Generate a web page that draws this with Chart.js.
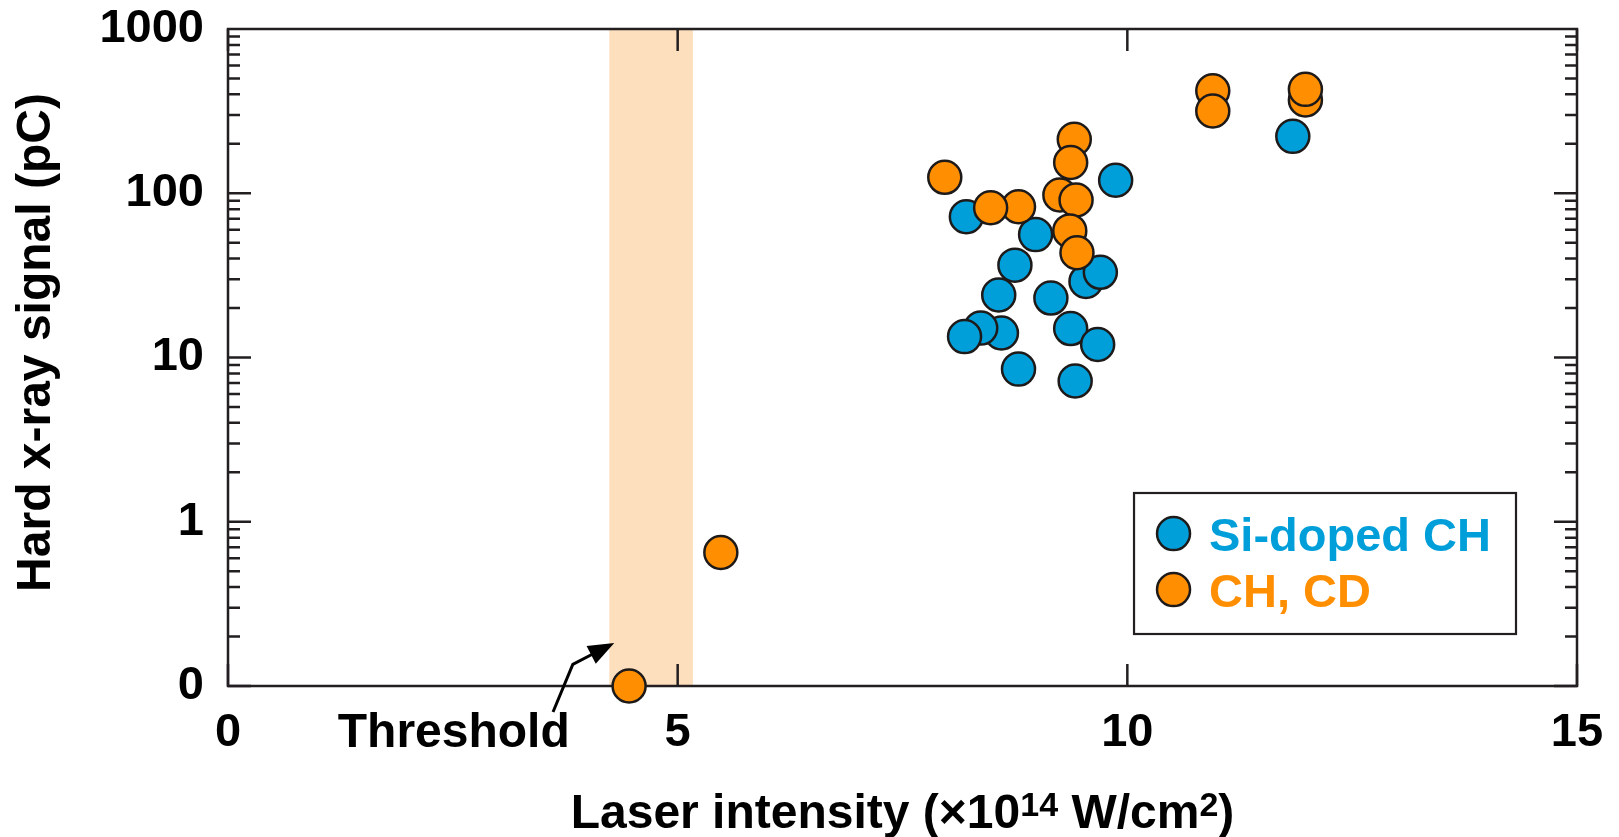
<!DOCTYPE html>
<html><head><meta charset="utf-8">
<script src="https://cdn.jsdelivr.net/npm/chart.js@4.4.0/dist/chart.umd.min.js"></script>
<style>html,body{margin:0;padding:0;background:#fff;}#wrap{width:1619px;height:837px;}</style>
</head><body><div id="wrap"><canvas id="c" width="1619" height="837"></canvas></div>
<script>
// ---- data ----
const seriesNames = ['Si-doped CH', 'CH, CD'];
const siX = [9.87, 8.21, 8.98, 8.75, 8.57, 9.15, 9.54, 9.70, 8.60, 8.37, 8.19, 9.37, 9.67, 8.79, 9.42, 11.84];
const siY = [120, 72, 56, 36.5, 24, 23, 29, 33, 14.1, 15.1, 13.4, 15.0, 12.0, 8.5, 7.2, 222];
const chX = [4.46, 5.48, 7.97, 8.79, 8.48, 9.41, 9.37, 9.25, 9.43, 9.36, 9.44, 10.95, 10.95, 11.98, 11.98];
const chY = [0.1, 0.65, 125, 82.7, 81.6, 213, 154, 97.5, 91, 59, 43.4, 421, 317, 370, 429];
const xTicks = [0, 5, 10, 15];
const yTicks = [0.1, 1, 10, 100, 1000];
const yTickLabels = ['0', '1', '10', '100', '1000'];
const thresholdBand = [4.24, 5.17];
const thresholdLabel = 'Threshold';
const yTitle = 'Hard x-ray signal (pC)';
const xTitleParts = [['Laser intensity (\u00d710', false], ['14', true], [' W/cm', false], ['2', true], [')', false]];

// ---- styles ----
const FONT = '"Liberation Sans", Arial, Helvetica, sans-serif';
const BLUE = '#009fda', ORANGE = '#ff8f00', EDGE = '#1e1a1a', FRAME = '#231f20', BAND = '#fddfbd';
Chart.defaults.font.family = FONT;

const deco = {
  id: 'deco',
  beforeDatasetsDraw(chart) {
    const {ctx, chartArea: a, scales: {x, y}} = chart;
    ctx.save();
    const b0 = x.getPixelForValue(thresholdBand[0]), b1 = x.getPixelForValue(thresholdBand[1]);
    ctx.fillStyle = BAND;
    ctx.fillRect(b0, a.top, b1 - b0, a.bottom - a.top);
    ctx.strokeStyle = FRAME; ctx.lineWidth = 2.5; ctx.lineCap = 'butt';
    ctx.beginPath();
    xTicks.forEach(v => {
      const px = x.getPixelForValue(v);
      ctx.moveTo(px, a.bottom); ctx.lineTo(px, a.bottom - 22);
      ctx.moveTo(px, a.top); ctx.lineTo(px, a.top + 22);
    });
    for (let d = -1; d <= 2; d++) {
      for (let m = 1; m <= 9; m++) {
        const py = y.getPixelForValue(m * Math.pow(10, d));
        const len = m === 1 ? 23 : 12;
        ctx.moveTo(a.left, py); ctx.lineTo(a.left + len, py);
        ctx.moveTo(a.right, py); ctx.lineTo(a.right - len, py);
      }
    }
    ctx.stroke();
    ctx.strokeRect(a.left, a.top, a.right - a.left, a.bottom - a.top);
    ctx.restore();
  },
  afterDraw(chart) {
    const {ctx, chartArea: a, scales: {x, y}} = chart;
    ctx.save();
    // legend
    ctx.font = 'bold 47px ' + FONT;
    const tw = Math.max(...seriesNames.map(s => ctx.measureText(s).width));
    const bw = 75 + tw + 25, bh = 141;
    const bx = a.right - 61 - bw, by = a.bottom - 52 - bh;
    ctx.fillStyle = '#fff';
    ctx.fillRect(bx, by, bw, bh);
    ctx.strokeStyle = FRAME; ctx.lineWidth = 2.2;
    ctx.strokeRect(bx, by, bw, bh);
    const cols = [BLUE, ORANGE];
    seriesNames.forEach((s, i) => {
      const cy = by + 40.6 + i * 56;
      ctx.beginPath(); ctx.arc(bx + 39.5, cy, 16.5, 0, Math.PI * 2);
      ctx.fillStyle = cols[i]; ctx.fill();
      ctx.lineWidth = 2.5; ctx.strokeStyle = EDGE; ctx.stroke();
      ctx.fillStyle = cols[i]; ctx.textAlign = 'left'; ctx.textBaseline = 'alphabetic';
      ctx.fillText(s, bx + 75, cy + 17);
    });
    // threshold annotation
    const p0 = [x.getPixelForValue(3.614), y.getPixelForValue(0.0695)];
    const p1 = [x.getPixelForValue(3.834), y.getPixelForValue(0.1355)];
    const p2 = [x.getPixelForValue(4.295), y.getPixelForValue(0.183)];
    const ang = Math.atan2(p2[1] - p1[1], p2[0] - p1[0]);
    const hl = 26, hw = 10;
    const back = [p2[0] - hl * Math.cos(ang), p2[1] - hl * Math.sin(ang)];
    ctx.strokeStyle = '#000'; ctx.lineWidth = 3; ctx.lineJoin = 'miter';
    ctx.beginPath(); ctx.moveTo(p0[0], p0[1]); ctx.lineTo(p1[0], p1[1]);
    ctx.lineTo(back[0] + 4 * Math.cos(ang), back[1] + 4 * Math.sin(ang)); ctx.stroke();
    ctx.fillStyle = '#000';
    ctx.beginPath();
    ctx.moveTo(p2[0], p2[1]);
    ctx.lineTo(back[0] + hw * Math.sin(ang), back[1] - hw * Math.cos(ang));
    ctx.lineTo(back[0] - hw * Math.sin(ang), back[1] + hw * Math.cos(ang));
    ctx.closePath(); ctx.fill();
    ctx.font = 'bold 48px ' + FONT; ctx.textAlign = 'right'; ctx.textBaseline = 'alphabetic';
    ctx.fillText(thresholdLabel, x.getPixelForValue(3.80), a.bottom + 61);
    // y title
    ctx.save();
    ctx.translate(a.left - 191, (a.top + a.bottom) / 2 - 15);
    ctx.rotate(-Math.PI / 2);
    ctx.font = 'bold 48px ' + FONT;
    ctx.textAlign = 'center'; ctx.textBaseline = 'middle';
    ctx.fillText(yTitle, 0, 0);
    ctx.restore();
    // x title with superscripts
    const mainF = 'bold 48px ' + FONT, supF = 'bold 34px ' + FONT;
    let total = 0;
    xTitleParts.forEach(([t, sup]) => { ctx.font = sup ? supF : mainF; total += ctx.measureText(t).width; });
    let cx = (a.left + a.right) / 2 - total / 2;
    const base = a.bottom + 142;
    ctx.textAlign = 'left';
    xTitleParts.forEach(([t, sup]) => {
      ctx.font = sup ? supF : mainF;
      ctx.fillText(t, cx, sup ? base - 12 : base);
      cx += ctx.measureText(t).width;
    });
    ctx.restore();
  }
};

const pts = (xs, ys) => xs.map((v, i) => ({x: v, y: ys[i]}));

new Chart(document.getElementById('c'), {
  type: 'scatter',
  data: {
    datasets: [
      {label: seriesNames[0], data: pts(siX, siY), backgroundColor: BLUE, borderColor: EDGE, borderWidth: 2.5,
       pointRadius: 16.5, pointHoverRadius: 16.5, clip: false, order: 1},
      {label: seriesNames[1], data: pts(chX, chY), backgroundColor: ORANGE, borderColor: EDGE, borderWidth: 2.5,
       pointRadius: 16.5, pointHoverRadius: 16.5, clip: false, order: 0}
    ]
  },
  options: {
    responsive: false, animation: false, events: [],
    layout: {padding: {top: 29, right: 42, left: 0, bottom: 0}},
    plugins: {legend: {display: false}, tooltip: {enabled: false}},
    scales: {
      x: {
        type: 'linear', min: 0, max: 15,
        afterBuildTicks: s => { s.ticks = xTicks.map(v => ({value: v})); },
        afterFit: s => { s.height = 151; s.paddingLeft = 0; s.paddingRight = 0; },
        grid: {display: false, drawTicks: false}, border: {display: false},
        ticks: {font: {size: 47, weight: 'bold'}, color: '#000', padding: 19, maxRotation: 0, autoSkip: false}
      },
      y: {
        type: 'logarithmic', min: 0.1, max: 1000,
        afterBuildTicks: s => { s.ticks = yTicks.map(v => ({value: v})); },
        afterFit: s => { s.width = 228; s.paddingTop = 0; s.paddingBottom = 0; },
        grid: {display: false, drawTicks: false}, border: {display: false},
        ticks: {font: {size: 47, weight: 'bold'}, color: '#000', padding: 24, autoSkip: false,
                callback: v => yTickLabels[yTicks.indexOf(v)]}
      }
    }
  },
  plugins: [deco]
});
</script>
</body></html>
